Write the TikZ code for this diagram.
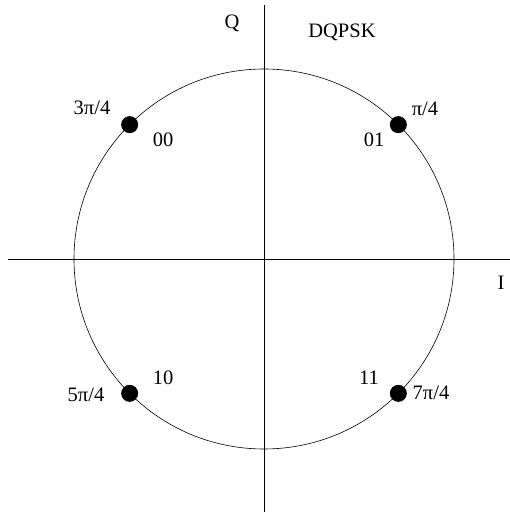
\documentclass[tikz,border=0pt]{standalone}
\usepackage{fontspec}
\setmainfont{Liberation Serif}
\usetikzlibrary{positioning,calc}
\tikzset{
  symbol/.style={circle, fill=black, inner sep=0pt, minimum size=17pt},
  lbl/.style={font=\fontsize{20.5}{24}\selectfont, inner sep=0pt, anchor=base}
}
\begin{document}
\begin{tikzpicture}[x=1pt, y=1pt]
  \useasboundingbox (0,0) rectangle (510,514);
  % axes and unit circle
  \coordinate (o) at (264,255);
  \coordinate (west) at (8,255);
  \coordinate (east) at (510,255);
  \coordinate (south) at (264,2);
  \coordinate (north) at (264,509);
  \draw[line width=0.8pt] (west) -- (east);
  \draw[line width=0.8pt] (south) -- (north);
  \draw[line width=0.6pt] (o) circle (190);
  % constellation points
  \foreach \name/\ang in {p1/45, p3/135, p5/225, p7/315} {
    \node[symbol] (\name) at ($(o)+(\ang:190)$) {};
  }
  % phase labels
  \node[lbl] (ph3) at (92,399) {3π/4};
  \node[lbl] (ph1) at (425,398) {π/4};
  \node[lbl] (ph5) at (86,112) {5π/4};
  \node[lbl] (ph7) at (431,114) {7π/4};
  % bit labels
  \node[lbl] (b00) at (163,367) {00};
  \node[lbl] (b01) at (374,367) {01};
  \node[lbl] (b10) at (163,129) {10};
  \node[lbl] (b11) at (369,129) {11};
  % axis labels
  \node[lbl] (q) at (232,485) {Q};
  \node[lbl] (i) at (501,224) {I};
  \node[lbl] (title) at (342,476) {DQPSK};
\end{tikzpicture}
\end{document}
